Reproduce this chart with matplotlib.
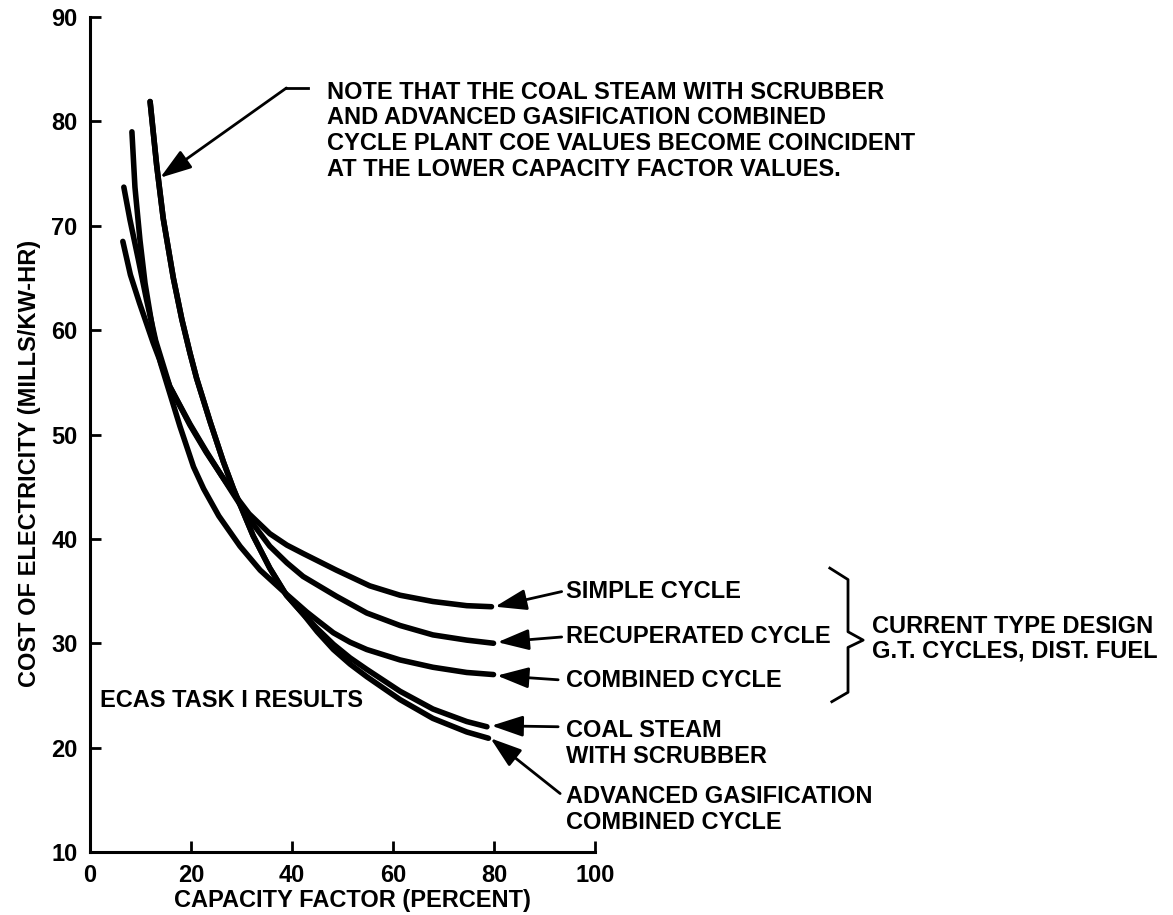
import matplotlib
matplotlib.use('Agg')
import matplotlib.pyplot as plt

plt.rcParams['font.family'] = ['Liberation Sans', 'DejaVu Sans']
plt.rcParams['font.weight'] = 'bold'
plt.rcParams['font.size'] = 17

# curves (capacity factor %, mills/kW-hr)
simple_x = [6.5, 8.0, 9.8, 12.5, 15.8, 19.8, 23.0, 26.0, 29.0, 31.5, 35.6, 39.0, 42.2, 48.8, 55.4, 61.4, 67.9, 74.6, 79.5]
simple_y = [68.5, 65.3, 62.6, 58.8, 54.6, 50.9, 48.3, 46.1, 44.0, 42.4, 40.5, 39.4, 38.6, 37.0, 35.5, 34.6, 34.0, 33.6, 33.5]

recup_x = [6.7, 7.9, 9.6, 11.2, 13.0, 15.8, 19.8, 23.0, 26.0, 28.5, 31.7, 35.6, 39.0, 42.2, 48.8, 54.8, 61.4, 67.9, 74.6, 79.9]
recup_y = [73.7, 70.6, 66.7, 62.9, 59.0, 54.6, 51.0, 48.4, 46.1, 44.2, 41.8, 39.3, 37.7, 36.4, 34.5, 32.9, 31.7, 30.8, 30.3, 30.0]

comb_x = [8.3, 8.9, 9.9, 10.9, 12.5, 14.0, 15.2, 17.8, 20.5, 22.5, 25.5, 29.7, 33.7, 38.9, 42.9, 45.0, 48.2, 51.5, 54.8, 61.4, 67.9, 74.6, 79.9]
comb_y = [79.0, 73.7, 68.6, 64.5, 59.8, 56.8, 54.9, 50.8, 46.9, 44.8, 42.2, 39.3, 37.0, 34.7, 33.0, 32.2, 31.0, 30.1, 29.4, 28.4, 27.7, 27.2, 27.0]

coal_x = [11.9, 13.2, 14.5, 16.5, 18.2, 19.8, 21.1, 23.8, 26.4, 28.4, 32.3, 35.6, 38.9, 42.2, 45.0, 48.2, 51.5, 54.8, 61.4, 67.9, 74.6, 78.6]
coal_y = [81.9, 75.8, 70.7, 65.0, 61.0, 57.8, 55.4, 51.2, 47.4, 44.8, 40.3, 37.2, 34.6, 32.8, 31.4, 29.9, 28.6, 27.5, 25.4, 23.7, 22.5, 22.0]

gasif_x = [11.9, 13.2, 14.5, 16.5, 18.2, 19.8, 21.1, 23.8, 26.4, 28.4, 32.3, 35.6, 38.9, 42.2, 45.0, 48.2, 51.5, 54.8, 61.4, 67.9, 74.6, 78.9]
gasif_y = [81.9, 75.8, 70.7, 65.0, 61.0, 57.8, 55.4, 51.2, 47.4, 44.8, 40.3, 37.2, 34.6, 32.8, 31.1, 29.4, 28.0, 26.8, 24.6, 22.8, 21.5, 20.9]

x_ticks = [0, 20, 40, 60, 80, 100]
y_ticks = [10, 20, 30, 40, 50, 60, 70, 80, 90]

fig = plt.figure(figsize=(11.73, 9.15), dpi=100)
ax = fig.add_axes([90 / 1173, 1 - 852 / 915, 505 / 1173, 835 / 915])

for xs, ys in [(simple_x, simple_y), (recup_x, recup_y), (comb_x, comb_y),
               (coal_x, coal_y), (gasif_x, gasif_y)]:
    ax.plot(xs, ys, color='black', lw=4, solid_capstyle='round', solid_joinstyle='round')

ax.set_xlim(0, 100)
ax.set_ylim(10, 90)
ax.set_xticks(x_ticks)
ax.set_yticks(y_ticks)
ax.tick_params(direction='in', length=8, width=2, pad=9, labelsize=17)
for lab in ax.get_xticklabels() + ax.get_yticklabels():
    lab.set_fontweight('bold')
for s in ['top', 'right']:
    ax.spines[s].set_visible(False)
for s in ['left', 'bottom']:
    ax.spines[s].set_linewidth(2.2)

ax.set_xlabel('CAPACITY FACTOR (PERCENT)', fontweight='bold', fontsize=17)
ax.xaxis.label.set_va('center')
ax.xaxis.set_label_coords(0.52, -0.058)
ax.set_ylabel('COST OF ELECTRICITY (MILLS/KW-HR)', fontweight='bold', fontsize=17)
ax.yaxis.label.set_va('center')
ax.yaxis.set_label_coords(-0.119, 0.465)

arrow = dict(arrowstyle='-|>,head_length=1.2,head_width=0.4', lw=2, color='black',
             mutation_scale=16, shrinkA=0, shrinkB=0)

# series labels with arrows pointing to curve ends
labels = [
    ('SIMPLE CYCLE', 34.95, (93.4, 34.95), (80.2, 33.5)),
    ('RECUPERATED CYCLE', 30.6, (93.4, 30.6), (80.7, 30.1)),
    ('COMBINED CYCLE', 26.4, (92.7, 26.5), (80.6, 26.9)),
    ('COAL STEAM\nWITH SCRUBBER', 20.4, (92.7, 22.0), (79.5, 22.1)),
    ('ADVANCED GASIFICATION\nCOMBINED CYCLE', 14.05, (93.1, 15.6), (79.3, 20.9)),
]
for txt, ty, tail, tip in labels:
    ax.text(94.2, ty, txt, ha='left', va='center', fontsize=17, fontweight='bold',
            linespacing=1.15)
    ax.annotate('', xy=tip, xytext=tail, arrowprops=arrow, annotation_clip=False)

# brace for the gas turbine group
ax.plot([146.5, 150.1, 150.1, 153.1, 150.1, 150.1, 146.9],
        [37.2, 36.1, 31.1, 30.3, 29.6, 25.3, 24.4],
        color='black', lw=2, clip_on=False)
ax.text(154.9, 30.4, 'CURRENT TYPE DESIGN\nG.T. CYCLES, DIST. FUEL', ha='left', va='center',
        fontsize=17, fontweight='bold', linespacing=1.1)

ax.text(2.0, 24.5, 'ECAS TASK I RESULTS', ha='left', va='center', fontsize=17, fontweight='bold')

# note with leader
ax.text(46.9, 79.1,
        'NOTE THAT THE COAL STEAM WITH SCRUBBER\n'
        'AND ADVANCED GASIFICATION COMBINED\n'
        'CYCLE PLANT COE VALUES BECOME COINCIDENT\n'
        'AT THE LOWER CAPACITY FACTOR VALUES.',
        ha='left', va='center', fontsize=17, fontweight='bold', linespacing=1.15)
ax.plot([43.2, 38.9], [83.2, 83.2], color='black', lw=2)
ax.annotate('', xy=(13.9, 74.6), xytext=(38.9, 83.2), arrowprops=arrow)

fig.savefig('out.png', dpi=100)
